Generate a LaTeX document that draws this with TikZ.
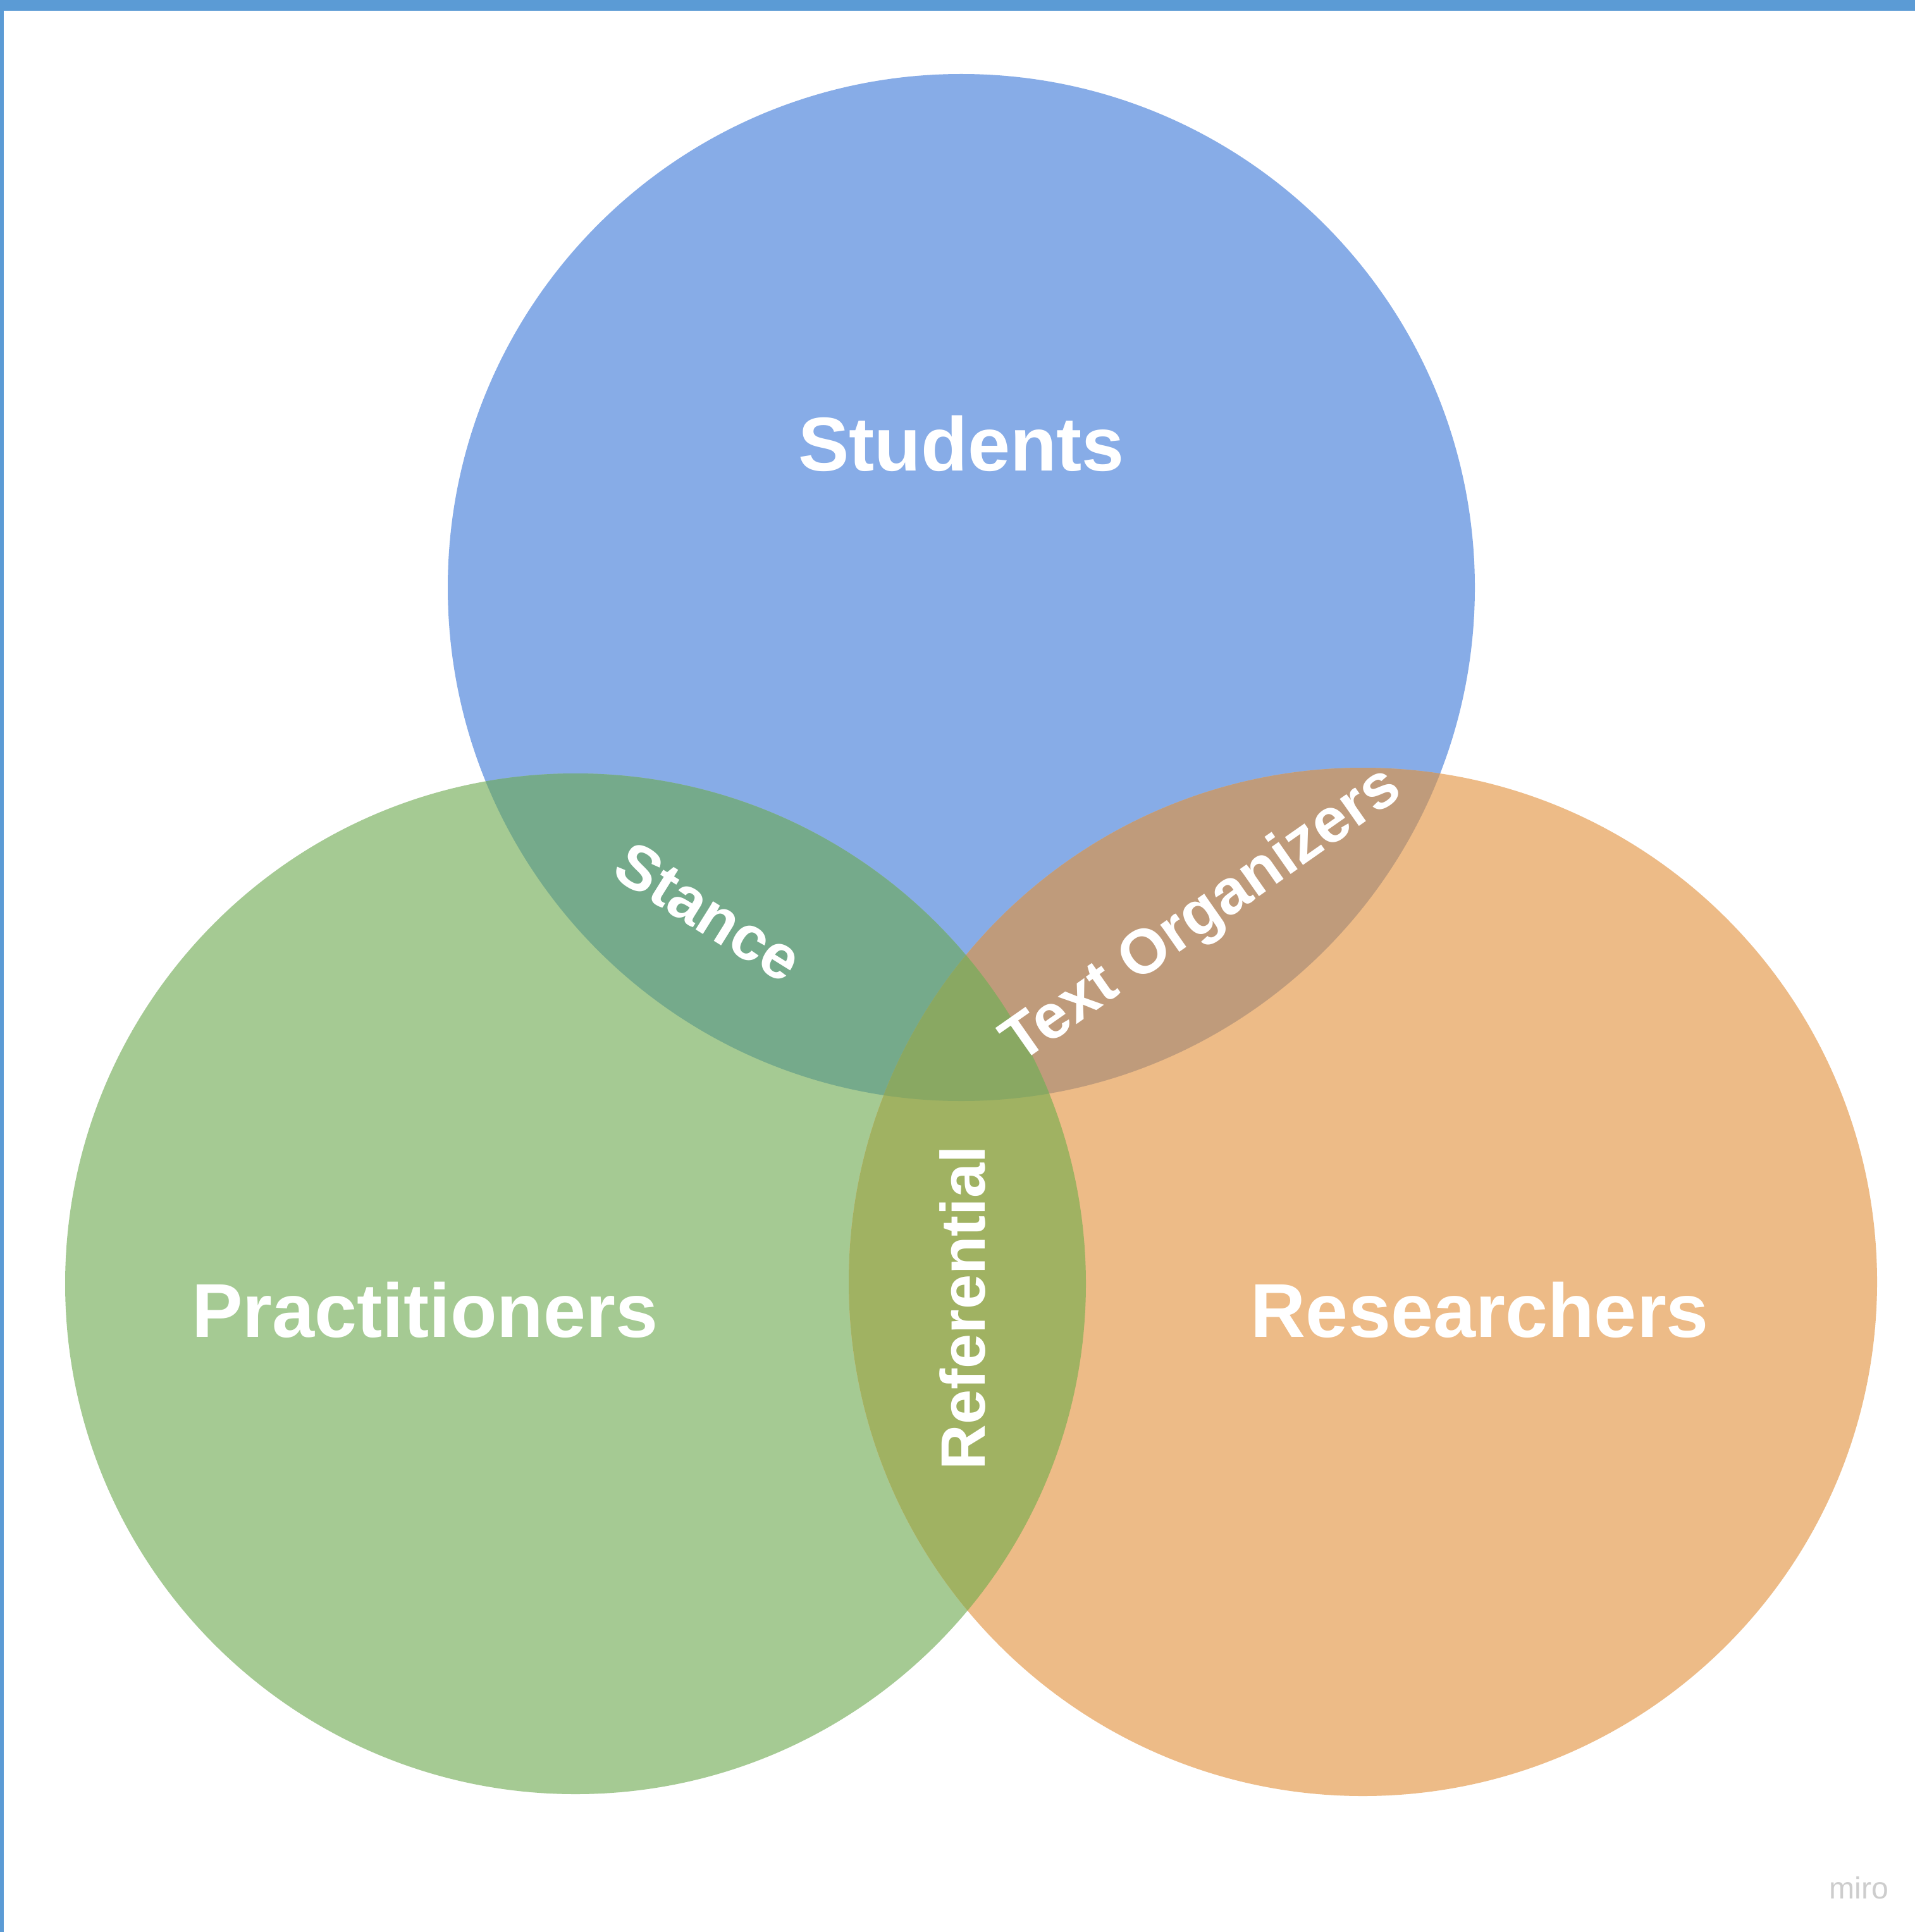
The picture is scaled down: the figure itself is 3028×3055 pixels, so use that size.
\documentclass[tikz,border=0pt]{standalone}
\usepackage{fontspec}
\newfontfamily\labelfont{Liberation Sans}
\newfontfamily\mirofont{Liberation Sans}
\definecolor{cblue}{HTML}{87ACE7}
\definecolor{cgreen}{HTML}{A5CA93}
\definecolor{corange}{HTML}{EDBB87}
\definecolor{cstance}{HTML}{75AA8B}
\definecolor{ctextorg}{HTML}{BF9B7B}
\definecolor{cref}{HTML}{A0B262}
\definecolor{ccenter}{HTML}{89A862}
\definecolor{cborder}{HTML}{5B9BD5}
\definecolor{cmiro}{HTML}{CDCDCD}
\tikzset{
  biglabel/.style={text=white, font=\labelfont\bfseries\fontsize{34.3pt}{40pt}\selectfont, inner sep=0pt},
  smalllabel/.style={text=white, font=\labelfont\bfseries\fontsize{28.2pt}{33pt}\selectfont, inner sep=0pt},
  mirolabel/.style={text=cmiro, font=\mirofont\fontsize{13.7pt}{16pt}\selectfont, inner sep=0pt}
}
\begin{document}
\begin{tikzpicture}[x=0.01cm,y=-0.01cm]
\useasboundingbox (0,0) rectangle (3028,3055);
\fill[white] (0,0) rectangle (3028,3055);
\coordinate (cS) at (1520,929);
\coordinate (cP) at (910,2030);
\coordinate (cR) at (2155,2027);
\def\rS{812}
\def\rP{807}
\def\rR{813}
% base circles
\fill[cblue] (cS) circle[radius=\rS];
\fill[cgreen] (cP) circle[radius=\rP];
\fill[corange] (cR) circle[radius=\rR];
% pairwise overlaps
\begin{scope}
  \clip (cS) circle[radius=\rS];
  \fill[cstance] (cP) circle[radius=\rP];
\end{scope}
\begin{scope}
  \clip (cS) circle[radius=\rS];
  \fill[ctextorg] (cR) circle[radius=\rR];
\end{scope}
\begin{scope}
  \clip (cP) circle[radius=\rP];
  \fill[cref] (cR) circle[radius=\rR];
\end{scope}
% triple overlap
\begin{scope}
  \clip (cS) circle[radius=\rS];
  \clip (cP) circle[radius=\rP];
  \fill[ccenter] (cR) circle[radius=\rR];
\end{scope}
% frame bars
\fill[cborder] (0,0) rectangle (3028,17);
\fill[cborder] (0,0) rectangle (6,3055);
% labels
\node[biglabel] (students) at (1520,701) {Students};
\node[biglabel] (practitioners) at (672,2071) {Practitioners};
\node[biglabel] (researchers) at (2340,2071) {Researchers};
\node[smalllabel] (stance) at (1120,1442) {\rotatebox{-32}{Stance}};
\node[smalllabel] (textorg) at (1902,1449) {\rotatebox{35}{Text Organizers}};
\node[smalllabel] (referential) at (1522,2068) {\rotatebox{90}{Referential}};
\node[mirolabel] (miro) at (2939,2985) {miro};
\end{tikzpicture}
\end{document}
